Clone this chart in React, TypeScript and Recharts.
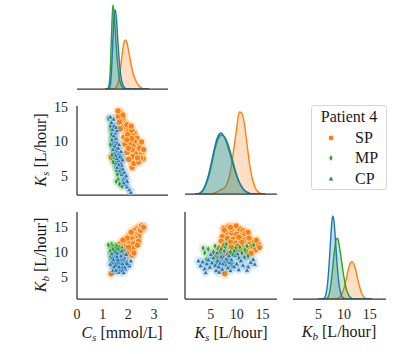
import React from 'react';
import { ComposedChart, ScatterChart, Scatter, Area, XAxis, YAxis } from 'recharts';

const FONT = 'Liberation Serif, DejaVu Serif, serif';
const C_SP = '#ff7f0e';
const C_MP = '#2ca02c';
const C_CP = '#1f77b4';
const AXIS_COLOR = '#333333';

const LEGEND_TITLE = 'Patient 4';
const GROUPS = ['SP', 'MP', 'CP'];

const CS_TICKS = [0, 1, 2, 3];
const KS_TICKS = [5, 10, 15];
const KB_TICKS = [5, 10, 15];

// ---------- KDE curves (diagonal) ----------
const CS_GRID = [1.10, 1.15, 1.20, 1.25, 1.30, 1.35, 1.40, 1.45, 1.50, 1.55, 1.60, 1.65, 1.70, 1.75, 1.80, 1.85, 1.90, 1.95, 2.00, 2.05, 2.10, 2.15, 2.20, 2.25, 2.30, 2.35, 2.40, 2.45, 2.50, 2.55, 2.60, 2.65, 2.70, 2.75, 2.80];
const CS_DENS_SP = [0, 0, 0, 0, 0, 0, 0.01, 0.02, 0.08, 0.25, 0.6, 1.2, 2.1, 3.2, 4.2, 4.8, 4.9, 4.6, 4.0, 3.3, 2.6, 2.0, 1.5, 1.1, 0.8, 0.55, 0.35, 0.22, 0.13, 0.07, 0.03, 0.01, 0, 0, 0];
const CS_DENS_MP = [0, 0, 0.05, 0.4, 2.0, 5.6, 8.4, 7.6, 5.6, 3.6, 2.1, 1.1, 0.55, 0.25, 0.1, 0.03, 0, 0, 0, 0, 0, 0, 0, 0, 0, 0, 0, 0, 0, 0, 0, 0, 0, 0, 0];
const CS_DENS_CP = [0, 0, 0, 0.05, 0.4, 2.0, 5.0, 7.4, 7.9, 6.6, 4.6, 2.8, 1.5, 0.75, 0.35, 0.15, 0.05, 0.01, 0, 0, 0, 0, 0, 0, 0, 0, 0, 0, 0, 0, 0, 0, 0, 0, 0];

const KS_GRID = [2.0, 2.5, 3.0, 3.5, 4.0, 4.5, 5.0, 5.5, 6.0, 6.5, 7.0, 7.5, 8.0, 8.5, 9.0, 9.5, 10.0, 10.5, 11.0, 11.5, 12.0, 12.5, 13.0, 13.5, 14.0, 14.5, 15.0, 15.5];
const KS_DENS_SP = [0, 0, 0, 0, 0, 0.01, 0.02, 0.05, 0.15, 0.3, 0.45, 0.55, 0.9, 1.6, 2.9, 4.7, 6.6, 8.2, 8.1, 7.0, 5.0, 3.0, 1.6, 0.75, 0.3, 0.1, 0.03, 0.01];
const KS_DENS_MP = [0, 0.01, 0.1, 0.35, 0.85, 1.6, 2.6, 3.8, 4.9, 5.6, 5.9, 5.8, 5.4, 4.7, 3.8, 2.8, 1.9, 1.2, 0.7, 0.35, 0.15, 0.05, 0.01, 0, 0, 0, 0, 0];
const KS_DENS_CP = [0, 0.02, 0.15, 0.45, 1.0, 1.8, 2.9, 4.1, 5.2, 5.9, 6.1, 5.8, 5.2, 4.4, 3.5, 2.6, 1.8, 1.15, 0.7, 0.38, 0.18, 0.07, 0.02, 0, 0, 0, 0, 0];

const KB_GRID = [5.0, 5.25, 5.5, 5.75, 6.0, 6.25, 6.5, 6.75, 7.0, 7.25, 7.5, 7.75, 8.0, 8.25, 8.5, 8.75, 9.0, 9.25, 9.5, 9.75, 10.0, 10.25, 10.5, 10.75, 11.0, 11.25, 11.5, 11.75, 12.0, 12.25, 12.5, 12.75, 13.0, 13.25, 13.5, 13.75, 14.0, 14.25, 14.5, 14.75, 15.0, 15.25, 15.5];
const KB_DENS_SP = [0, 0, 0, 0, 0, 0, 0, 0, 0, 0, 0, 0, 0, 0, 0.02, 0.05, 0.12, 0.25, 0.45, 0.75, 1.1, 1.6, 2.2, 2.8, 3.3, 3.6, 3.7, 3.65, 3.4, 2.95, 2.4, 1.8, 1.3, 0.85, 0.5, 0.28, 0.14, 0.06, 0.02, 0, 0, 0, 0];
const KB_DENS_MP = [0, 0, 0, 0, 0, 0, 0.02, 0.1, 0.35, 0.9, 1.8, 3.0, 4.3, 5.4, 6.05, 6.05, 5.5, 4.7, 3.8, 2.9, 2.1, 1.4, 0.9, 0.55, 0.3, 0.15, 0.07, 0.03, 0.01, 0, 0, 0, 0, 0, 0, 0, 0, 0, 0, 0, 0, 0, 0];
const KB_DENS_CP = [0, 0, 0, 0.01, 0.05, 0.2, 0.6, 1.5, 3.0, 5.0, 7.0, 8.3, 7.9, 6.3, 4.4, 2.7, 1.5, 0.75, 0.35, 0.15, 0.05, 0.02, 0, 0, 0, 0, 0, 0, 0, 0, 0, 0, 0, 0, 0, 0, 0, 0, 0, 0, 0, 0, 0];

// ---------- samples: [Cs, Ks, Kb] ----------
const SP_SAMPLES = [
  [2.58, 7.5, 14.8], [2.55, 8.5, 15.2], [2.45, 9.5, 15.0], [2.33, 10.5, 14.7], [2.23, 11.2, 14.3],
  [2.46, 8.0, 14.1], [2.36, 9.0, 13.9], [2.24, 10.0, 13.6], [2.14, 11.0, 13.4], [2.02, 12.0, 13.1],
  [2.41, 7.2, 13.1], [2.29, 8.2, 12.8], [2.18, 9.3, 12.6], [2.08, 10.2, 12.4], [1.98, 11.3, 12.3],
  [1.85, 12.6, 12.1], [1.78, 13.4, 12.0], [1.67, 14.2, 11.6], [1.71, 13.0, 11.2], [1.77, 12.0, 11.0],
  [1.93, 10.8, 11.5], [2.04, 9.8, 11.8], [2.15, 8.8, 12.0], [2.18, 7.8, 11.6], [2.18, 6.6, 10.8],
  [1.83, 10.6, 10.6], [1.69, 11.8, 10.2], [1.62, 13.6, 10.4], [1.60, 14.4, 10.9], [1.87, 9.6, 10.2],
  [1.66, 12.8, 9.8], [2.02, 7.4, 10.0], [1.95, 8.4, 9.6], [1.97, 11.0, 12.0], [2.14, 10.4, 13.0],
  [2.44, 9.0, 14.6], [1.95, 12.4, 12.8], [1.79, 13.8, 12.4], [2.48, 7.6, 14.4], [2.52, 9.9, 15.3],
  [2.60, 8.8, 15.0], [2.14, 11.6, 13.8], [2.11, 12.2, 14.0], [1.94, 10.2, 11.2], [2.01, 9.0, 11.0],
  [2.15, 6.2, 9.4], [2.22, 6.8, 9.8], [2.40, 7.0, 12.2], [2.36, 7.6, 11.4], [1.33, 7.7, 5.6],
];
const MP_SAMPLES = [
  [1.66, 3.8, 9.8], [1.60, 4.5, 10.6], [1.57, 5.2, 9.4], [1.54, 5.8, 11.2], [1.52, 6.3, 8.6],
  [1.50, 6.8, 10.2], [1.47, 7.3, 9.0], [1.45, 7.8, 11.0], [1.44, 8.3, 8.2], [1.42, 8.8, 10.0],
  [1.40, 9.3, 9.5], [1.38, 9.8, 10.8], [1.36, 10.4, 8.8], [1.34, 11.0, 9.8], [1.32, 11.6, 10.4],
  [1.30, 12.2, 9.2], [1.22, 13.3, 11.4], [1.62, 6.0, 7.8], [1.56, 7.5, 8.0], [1.50, 9.0, 7.6],
  [1.70, 5.5, 10.0], [1.36, 8.0, 11.6], [1.46, 10.6, 11.0], [1.53, 4.2, 8.5], [1.40, 12.0, 11.2],
  [1.40, 7.0, 10.6], [1.30, 9.5, 10.2], [1.75, 3.5, 10.8],
];
const CP_SAMPLES = [
  [2.05, 3.0, 7.2], [1.95, 3.4, 8.0], [1.88, 3.8, 6.6], [1.96, 4.2, 7.6], [1.80, 4.5, 8.4],
  [1.86, 4.8, 6.9], [1.74, 5.2, 7.8], [1.84, 5.5, 8.8], [1.68, 5.8, 7.3], [1.78, 6.0, 6.2],
  [1.64, 6.3, 8.2], [1.74, 6.5, 7.0], [1.58, 6.8, 7.7], [1.70, 7.0, 9.0], [1.62, 7.2, 6.5],
  [1.55, 7.5, 8.0], [1.68, 7.8, 7.4], [1.52, 8.0, 8.6], [1.63, 8.3, 6.8], [1.50, 8.6, 7.9],
  [1.60, 9.0, 8.4], [1.47, 9.3, 7.1], [1.56, 9.7, 9.3], [1.44, 10.0, 7.6], [1.53, 10.4, 6.4],
  [1.43, 10.8, 8.2], [1.50, 11.2, 7.3], [1.38, 11.7, 8.8], [1.45, 12.2, 7.0], [1.34, 12.7, 7.9],
  [1.42, 13.2, 8.5], [1.30, 13.5, 7.5], [2.10, 2.6, 8.2], [1.92, 5.0, 9.5], [1.62, 6.6, 5.9],
  [1.75, 7.6, 10.2], [1.40, 8.8, 6.2], [1.64, 9.5, 7.0], [1.56, 11.5, 9.0], [1.82, 4.0, 5.8],
  [1.56, 6.2, 9.8], [1.36, 10.2, 9.6], [1.52, 12.0, 6.3], [1.78, 7.3, 7.6], [1.72, 8.5, 9.2],
];

const toPts = (arr: number[][]) => arr.map(([cs, ks, kb]) => ({ cs, ks, kb }));
const SP_PTS = toPts(SP_SAMPLES);
const MP_PTS = toPts(MP_SAMPLES);
const CP_PTS = toPts(CP_SAMPLES);

const makeKde = (grid: number[], sp: number[], mp: number[], cp: number[]) =>
  grid.map((x, i) => ({ x, sp: sp[i], mp: mp[i], cp: cp[i] }));
const CS_KDE = makeKde(CS_GRID, CS_DENS_SP, CS_DENS_MP, CS_DENS_CP);
const KS_KDE = makeKde(KS_GRID, KS_DENS_SP, KS_DENS_MP, KS_DENS_CP);
const KB_KDE = makeKde(KB_GRID, KB_DENS_SP, KB_DENS_MP, KB_DENS_CP);

// ---------- layout ----------
const YW = 40;
const XH = 30;
const PT = 5;
const PR = 5;
const MARGIN = { top: PT, right: PR, bottom: 0, left: 0 };
const AXIS_LINE = { stroke: AXIS_COLOR, strokeWidth: 1.25 };
const TICK = { fill: '#262626', fontSize: 14, fontFamily: FONT };

const wrap = (x: number, y: number, node: React.ReactNode) => (
  <div style={{ position: 'absolute', left: x - YW, top: y - PT }}>{node}</div>
);

const xAxisEl = (key: string, domain: number[], ticks: number[], showTicks: boolean) => (
  <XAxis
    type="number"
    dataKey={key}
    domain={domain}
    ticks={ticks}
    allowDataOverflow
    interval={0}
    height={XH}
    axisLine={AXIS_LINE}
    tickLine={false}
    tickSize={0}
    tickMargin={10}
    tick={showTicks ? TICK : false}
  />
);
const yAxisEl = (key: string, domain: number[], ticks: number[], showLine: boolean, showTicks: boolean) => (
  <YAxis
    type="number"
    dataKey={key}
    domain={domain}
    ticks={ticks}
    allowDataOverflow
    interval={0}
    width={YW}
    axisLine={showLine ? AXIS_LINE : false}
    tickLine={false}
    tickSize={0}
    tickMargin={9}
    tick={showTicks ? TICK : false}
  />
);

const spShape = (p: any) => (
  <g>
    <circle cx={p.cx} cy={p.cy} r={5.2} fill={C_SP} fillOpacity={0.14} />
    <circle cx={p.cx} cy={p.cy} r={3.2} fill={C_SP} stroke="#ffffff" strokeWidth={0.7} />
  </g>
);
const mpShape = (p: any) => (
  <g>
    <circle cx={p.cx} cy={p.cy} r={4.3} fill={C_MP} fillOpacity={0.14} />
    <path d={`M${p.cx},${p.cy - 3.3}L${p.cx + 1.9},${p.cy}L${p.cx},${p.cy + 3.3}L${p.cx - 1.9},${p.cy}Z`} fill={C_MP} stroke="#ffffff" strokeWidth={0.5} />
  </g>
);
const cpShape = (p: any) => (
  <g>
    <circle cx={p.cx} cy={p.cy} r={4.6} fill={C_CP} fillOpacity={0.13} />
    <path d={`M${p.cx},${p.cy - 2.9}L${p.cx + 2.6},${p.cy + 1.8}L${p.cx - 2.6},${p.cy + 1.8}Z`} fill={C_CP} stroke="#ffffff" strokeWidth={0.5} />
  </g>
);

const ScatterPanel = (props: {
  x: number; y: number; w: number; h: number;
  xKey: string; yKey: string; xDomain: number[]; yDomain: number[];
  xTicks: number[]; yTicks: number[]; showXTicks: boolean; showYTicks: boolean;
}) =>
  wrap(
    props.x,
    props.y,
    <ScatterChart width={props.w + YW + PR} height={props.h + PT + XH} margin={MARGIN}>
      {xAxisEl(props.xKey, props.xDomain, props.xTicks, props.showXTicks)}
      {yAxisEl(props.yKey, props.yDomain, props.yTicks, true, props.showYTicks)}
      <Scatter data={SP_PTS} fill={C_SP} shape={spShape} isAnimationActive={false} />
      <Scatter data={MP_PTS} fill={C_MP} shape={mpShape} isAnimationActive={false} />
      <Scatter data={CP_PTS} fill={C_CP} shape={cpShape} isAnimationActive={false} />
    </ScatterChart>
  );

const KdePanel = (props: {
  x: number; y: number; w: number; h: number; data: any[];
  xDomain: number[]; yMax: number; xTicks: number[]; showXTicks: boolean;
}) =>
  wrap(
    props.x,
    props.y,
    <ComposedChart width={props.w + YW + PR} height={props.h + PT + XH} margin={MARGIN} data={props.data}>
      {xAxisEl('x', props.xDomain, props.xTicks, props.showXTicks)}
      {yAxisEl('', [0, props.yMax], [], false, false)}
      <Area type="monotone" dataKey="sp" stroke={C_SP} strokeWidth={1.4} fill={C_SP} fillOpacity={0.25} dot={false} activeDot={false} isAnimationActive={false} />
      <Area type="monotone" dataKey="mp" stroke={C_MP} strokeWidth={1.4} fill={C_MP} fillOpacity={0.25} dot={false} activeDot={false} isAnimationActive={false} />
      <Area type="monotone" dataKey="cp" stroke={C_CP} strokeWidth={1.4} fill={C_CP} fillOpacity={0.25} dot={false} activeDot={false} isAnimationActive={false} />
    </ComposedChart>
  );

const labelStyle: React.CSSProperties = {
  position: 'absolute',
  width: 140,
  height: 20,
  lineHeight: '20px',
  textAlign: 'center',
  fontFamily: FONT,
  fontSize: 16,
  color: '#1a1a1a',
  whiteSpace: 'nowrap',
};

const VarLabel = (props: { sym: string; sub: string; unit: string }) => (
  <>
    <i>{props.sym}</i>
    <sub style={{ fontSize: '0.7em', fontStyle: 'italic', verticalAlign: '-0.25em' }}>{props.sub}</sub>
    {' '}
    {props.unit}
  </>
);

const legendMarker = (g: string) => {
  if (g === 'SP') return <circle cx={6} cy={6} r={2.4} fill={C_SP} />;
  if (g === 'MP') return <path d="M6,3 L7.6,6 L6,9 L4.4,6 Z" fill={C_MP} />;
  return <path d="M6,3.6 L8.3,7.6 L3.7,7.6 Z" fill={C_CP} />;
};

export default function App() {
  return (
    <div style={{ position: 'absolute', left: 0, top: 0, width: 404, height: 354, background: '#ffffff', overflow: 'hidden', fontFamily: FONT }}>
      {/* diagonal KDEs */}
      <KdePanel x={77} y={0} w={91} h={89} data={CS_KDE} xDomain={[0, 3.55]} yMax={8.9} xTicks={CS_TICKS} showXTicks={false} />
      <KdePanel x={185} y={106} w={92} h={88} data={KS_KDE} xDomain={[0, 17.8]} yMax={8.8} xTicks={KS_TICKS} showXTicks={false} />
      <KdePanel x={293} y={212} w={93} h={87} data={KB_KDE} xDomain={[0, 18.2]} yMax={8.7} xTicks={KB_TICKS} showXTicks={true} />

      {/* scatters */}
      <ScatterPanel x={77} y={106} w={91} h={89} xKey="cs" yKey="ks" xDomain={[0, 3.55]} yDomain={[2.25, 15.1]} xTicks={CS_TICKS} yTicks={KS_TICKS} showXTicks={false} showYTicks={true} />
      <ScatterPanel x={77} y={212} w={91} h={87} xKey="cs" yKey="kb" xDomain={[0, 3.55]} yDomain={[0.5, 18.1]} xTicks={CS_TICKS} yTicks={KB_TICKS} showXTicks={true} showYTicks={true} />
      <ScatterPanel x={185} y={212} w={92} h={87} xKey="ks" yKey="kb" xDomain={[0, 17.8]} yDomain={[0.5, 18.1]} xTicks={KS_TICKS} yTicks={KB_TICKS} showXTicks={true} showYTicks={false} />

      {/* axis labels */}
      <div style={{ ...labelStyle, left: 122 - 70, top: 323 }}><VarLabel sym="C" sub="s" unit="[mmol/L]" /></div>
      <div style={{ ...labelStyle, left: 231 - 70, top: 323 }}><VarLabel sym="K" sub="s" unit="[L/hour]" /></div>
      <div style={{ ...labelStyle, left: 339 - 70, top: 322 }}><VarLabel sym="K" sub="b" unit="[L/hour]" /></div>
      <div style={{ ...labelStyle, left: 41 - 70, top: 150 - 10, transform: 'rotate(-90deg)' }}><VarLabel sym="K" sub="s" unit="[L/hour]" /></div>
      <div style={{ ...labelStyle, left: 41 - 70, top: 255 - 10, transform: 'rotate(-90deg)' }}><VarLabel sym="K" sub="b" unit="[L/hour]" /></div>

      {/* legend */}
      <div style={{ position: 'absolute', left: 311, top: 105, width: 76, height: 85, boxSizing: 'border-box', border: '1px solid #d6d6d6', borderRadius: 3, background: '#ffffff', fontFamily: FONT, fontSize: 16, color: '#1a1a1a' }}>
        <div style={{ position: 'absolute', left: 0, top: 1, width: 74, textAlign: 'center', lineHeight: '20px' }}>{LEGEND_TITLE}</div>
        {GROUPS.map((g, i) => (
          <div key={g} style={{ position: 'absolute', left: 0, top: 22 + i * 20.3, width: 74, height: 20, lineHeight: '20px' }}>
            <svg width={12} height={12} style={{ position: 'absolute', left: 13, top: 4 }}>{legendMarker(g)}</svg>
            <span style={{ position: 'absolute', left: 43 }}>{g}</span>
          </div>
        ))}
      </div>
    </div>
  );
}
